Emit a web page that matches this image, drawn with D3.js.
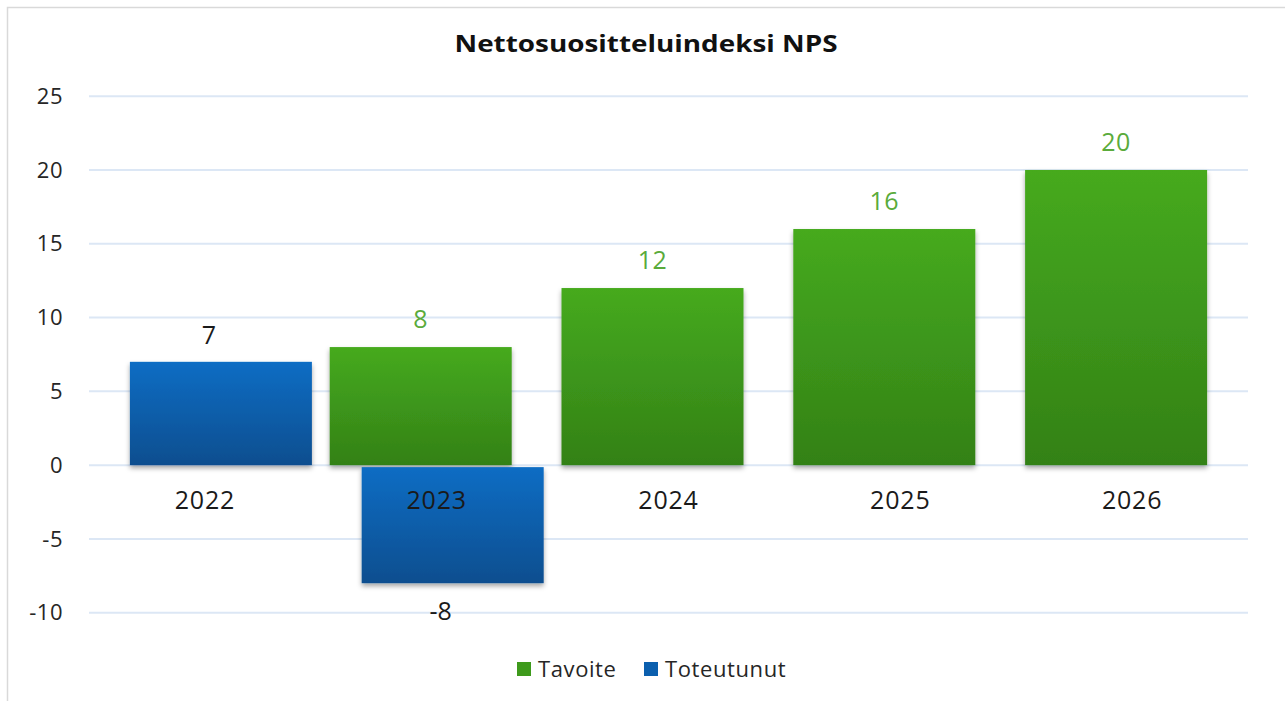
<!DOCTYPE html>
<html>
<head>
<meta charset="utf-8">
<script src="https://cdn.jsdelivr.net/npm/d3@7"></script>
<style>
  body { margin: 0; background: #fff; }
  text { font-family: "Open Sans", "Noto Sans", sans-serif; }
</style>
</head>
<body>
<script>
var years = ["2022", "2023", "2024", "2025", "2026"];
var tavoite = [null, 8, 12, 16, 20];
var toteutunut = [7, -8, null, null, null];
var yTicks = [-10, -5, 0, 5, 10, 15, 20, 25];
var seriesNames = ["Tavoite", "Toteutunut"];

var width = 1285, height = 701;

var svg = d3.select("body").append("svg")
  .attr("width", width)
  .attr("height", height);

var defs = svg.append("defs");

function setGradient(id, top, bottom) {
  var g = defs.append("linearGradient")
    .attr("id", id)
    .attr("x1", "0%").attr("x2", "0%")
    .attr("y1", "0%").attr("y2", "100%");
  g.append("stop").attr("offset", "0%").attr("stop-color", top);
  g.append("stop").attr("offset", "100%").attr("stop-color", bottom);
}
setGradient("gradGreen", "#46aa1f", "#338116");
setGradient("gradBlue", "#0b6dc4", "#0a4e8f");

var shadow = defs.append("filter").attr("id", "shadow")
  .attr("x", "-10%").attr("y", "-10%").attr("width", "120%").attr("height", "130%");
shadow.append("feDropShadow")
  .attr("dx", 0).attr("dy", 3).attr("stdDeviation", 2.5)
  .attr("flood-color", "#000").attr("flood-opacity", 0.35);

// chart frame (only left and top edges visible)
svg.append("path")
  .attr("d", "M7.5," + height + "V7.5H" + width)
  .attr("fill", "none")
  .attr("stroke", "#d9d9d9")
  .attr("stroke-width", 1.5);

var x = d3.scaleBand().domain(years).range([89, 1248]);
var y = d3.scaleLinear().domain([-10, 25]).range([612.7, 96.2]);

var barW = 182, shift = 16;

// gridlines
svg.selectAll(".grid")
  .data(yTicks).enter()
  .append("line")
  .attr("x1", 89).attr("x2", 1248)
  .attr("y1", function (d) { return y(d); })
  .attr("y2", function (d) { return y(d); })
  .attr("stroke", "#dce7f5")
  .attr("stroke-width", 2);

// y tick labels
svg.selectAll(".ytick")
  .data(yTicks).enter()
  .append("text")
  .attr("x", 63)
  .attr("y", function (d) { return y(d); })
  .attr("dy", "0.35em")
  .attr("text-anchor", "end")
  .attr("fill", "#262626")
  .style("font-size", "22px")
  .style("letter-spacing", "0.5px")
  .text(function (d) { return d; });

// title
svg.append("text")
  .attr("x", 646).attr("y", 52)
  .attr("text-anchor", "middle")
  .attr("fill", "#111")
  .attr("textLength", 383)
  .attr("lengthAdjust", "spacingAndGlyphs")
  .style("font-size", "23px")
  .style("font-weight", "bold")
  .text("Nettosuositteluindeksi NPS");

var greenData = years.map(function (yr, i) { return { year: yr, v: tavoite[i] }; })
  .filter(function (d) { return d.v !== null; });
var blueData = years.map(function (yr, i) { return { year: yr, v: toteutunut[i] }; })
  .filter(function (d) { return d.v !== null; });

function cx(d) { return x(d.year) + x.bandwidth() / 2; }

// Tavoite bars
svg.selectAll(".barG")
  .data(greenData).enter()
  .append("rect")
  .attr("x", function (d) { return cx(d) - shift - barW / 2; })
  .attr("y", function (d) { return y(Math.max(0, d.v)); })
  .attr("width", barW)
  .attr("height", function (d) { return Math.abs(y(d.v) - y(0)); })
  .attr("fill", "url(#gradGreen)")
  .attr("filter", "url(#shadow)");

// Toteutunut bars
svg.selectAll(".barB")
  .data(blueData).enter()
  .append("rect")
  .attr("x", function (d) { return cx(d) + shift - barW / 2; })
  .attr("y", function (d) { return d.v >= 0 ? y(d.v) : y(0) + 2; })
  .attr("width", barW)
  .attr("height", function (d) { return Math.abs(y(d.v) - y(0)) - (d.v >= 0 ? 0 : 2); })
  .attr("fill", "url(#gradBlue)")
  .attr("filter", "url(#shadow)");

// category labels
svg.selectAll(".xtick")
  .data(years).enter()
  .append("text")
  .attr("x", function (d) { return x(d) + x.bandwidth() / 2; })
  .attr("y", y(0) + 35)
  .attr("dy", "0.35em")
  .attr("text-anchor", "middle")
  .attr("fill", "#1a1a1a")
  .style("font-size", "25px")
  .style("letter-spacing", "0.8px")
  .text(function (d) { return d; });

// value labels
svg.selectAll(".lblG")
  .data(greenData).enter()
  .append("text")
  .attr("x", function (d) { return cx(d) - shift; })
  .attr("y", function (d) { return y(d.v) - 28; })
  .attr("dy", "0.35em")
  .attr("text-anchor", "middle")
  .attr("fill", "#5aab3b")
  .style("font-size", "25px")
  .style("letter-spacing", "0.5px")
  .text(function (d) { return d.v; });

svg.selectAll(".lblB")
  .data(blueData).enter()
  .append("text")
  .attr("x", function (d) { return cx(d) + shift - 12; })
  .attr("y", function (d) { return d.v >= 0 ? y(d.v) - 27 : y(d.v) + 28; })
  .attr("dy", "0.35em")
  .attr("text-anchor", "middle")
  .attr("fill", "#1a1a1a")
  .style("font-size", "25px")
  .text(function (d) { return d.v; });

// legend
var legendColors = ["#3e9a1c", "#0b5fae"];
var legendX = [517, 644];
var legend = svg.selectAll(".legend")
  .data(seriesNames).enter()
  .append("g")
  .attr("transform", function (d, i) { return "translate(" + legendX[i] + ",662)"; });
legend.append("rect")
  .attr("width", 14).attr("height", 14)
  .attr("fill", function (d, i) { return legendColors[i]; });
legend.append("text")
  .attr("x", 21).attr("y", 7)
  .attr("dy", "0.35em")
  .attr("fill", "#262626")
  .style("font-size", "22px")
  .style("letter-spacing", "0.6px")
  .text(function (d) { return d; });
</script>
</body>
</html>
